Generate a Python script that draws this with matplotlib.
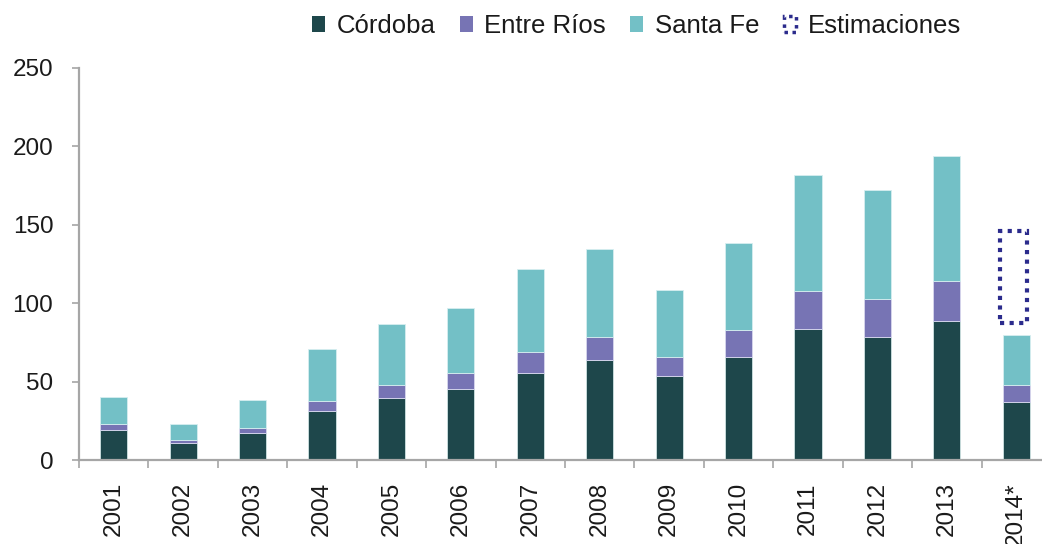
import matplotlib
matplotlib.use("Agg")
from matplotlib import pyplot as plt
from matplotlib.patches import Patch
import numpy as np

plt.rcParams['font.family'] = ['Liberation Sans', 'DejaVu Sans']

years = ["2001", "2002", "2003", "2004", "2005", "2006", "2007",
         "2008", "2009", "2010", "2011", "2012", "2013", "2014*"]
cordoba = [19.3, 11.0, 17.4, 31.5, 39.8, 45.5, 55.7, 64.0, 53.6, 65.9, 83.8, 78.6, 88.8, 37.2]
entre_rios = [3.5, 2.0, 3.2, 6.4, 8.3, 10.0, 13.4, 14.6, 11.9, 17.2, 24.2, 24.1, 25.5, 10.6]
santa_fe = [17.4, 10.0, 17.4, 32.9, 38.5, 41.3, 52.5, 56.0, 43.1, 55.1, 73.9, 69.5, 79.4, 31.7]
est_low = 87.2
est_high = 146.0

c_cor = "#1e474b"
c_er = "#7774b4"
c_sf = "#73c0c6"
c_est = "#2b2b8c"

x = np.arange(len(years))
w = 0.39

fig = plt.figure(figsize=(10.42, 5.44), dpi=100)
ax = fig.add_axes([0.0758, 0.1544, 0.9328, 0.7206])

cor = np.array(cordoba)
er = np.array(entre_rios)
sf = np.array(santa_fe)
ax.bar(x, cor, w, color=c_cor, edgecolor="#cfe3e3", linewidth=0.6)
ax.bar(x, er, w, bottom=cor, color=c_er, edgecolor="#d8d8ee", linewidth=0.6)
ax.bar(x, sf, w, bottom=cor + er, color=c_sf, edgecolor="#d6eef0", linewidth=0.6)

# estimation box on last year
ax.bar(x[-1] - 0.04, est_high - est_low, w, bottom=est_low, fill=False,
       edgecolor=c_est, linewidth=3, linestyle=(0, (1, 1.3)))

ax.set_xlim(-0.5, len(years) - 0.5)
ax.set_ylim(0, 250)
ax.set_yticks([0, 50, 100, 150, 200, 250])
ax.set_xticks(x)
ax.set_xticklabels(years, rotation=90, fontsize=17.5, color="#1a1a1a")
ax.set_xticks(np.arange(len(years) + 1) - 0.5, minor=True)
ax.tick_params(axis="x", which="major", length=0, pad=16)
ax.tick_params(axis="x", which="minor", length=5.5, width=1.2, color="#a6a6a6", direction="out")
ax.tick_params(axis="y", length=5, width=1.2, color="#a6a6a6", pad=13.5,
               labelsize=17.5, labelcolor="#1a1a1a")

for s in ["top", "right"]:
    ax.spines[s].set_visible(False)
for s in ["left", "bottom"]:
    ax.spines[s].set_color("#a6a6a6")
    ax.spines[s].set_linewidth(1.6)

handles = [Patch(facecolor=c_cor), Patch(facecolor=c_er), Patch(facecolor=c_sf),
           Patch(facecolor="none", edgecolor=c_est, linewidth=2.5, linestyle=(0, (1, 1.3)))]
fig.legend(handles, ["Córdoba", "Entre Ríos", "Santa Fe", "Estimaciones"],
           loc="center", bbox_to_anchor=(0.611, 0.952), ncol=4, frameon=False,
           fontsize=18.5, handlelength=0.5, handleheight=0.6, handletextpad=0.45,
           columnspacing=0.95, labelcolor="#1a1a1a")

fig.savefig("out.png", dpi=100)
